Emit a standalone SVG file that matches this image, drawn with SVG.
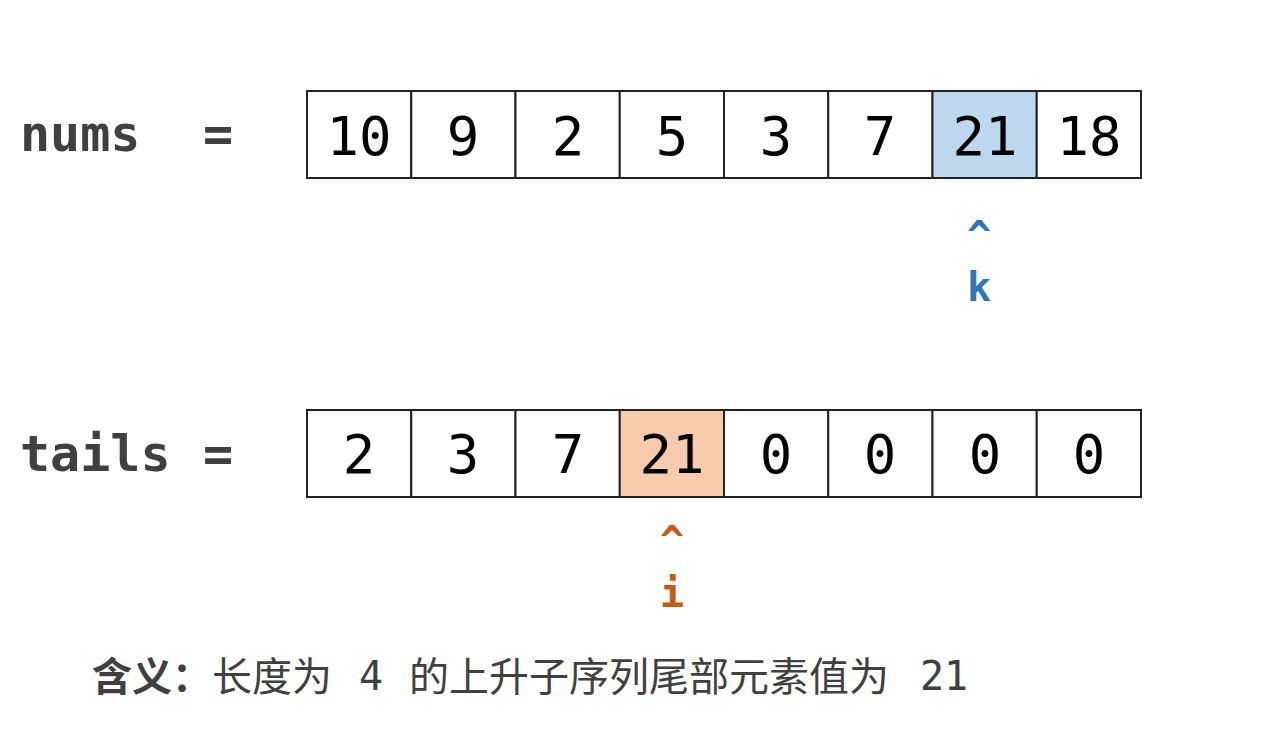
<svg xmlns="http://www.w3.org/2000/svg" width="1266" height="738" viewBox="0 0 1266 738">
<style>
.cell{fill:#fff;stroke:#222;stroke-width:2}
.hb{fill:#BDD7EE}
.ho{fill:#F8CBAD}
.num{font-family:"DejaVu Sans Mono","Liberation Mono",monospace;font-size:54px;fill:#000;text-anchor:middle}
.lbl{font-family:"DejaVu Sans Mono","Liberation Mono",monospace;font-size:50px;font-weight:bold;fill:#404040}
.ptr{font-family:"DejaVu Sans Mono","Liberation Mono",monospace;font-size:40px;font-weight:bold;text-anchor:middle}
.blue{fill:#2E75B6}
.org{fill:#C55A11}
.cn{font-family:"Noto Sans CJK SC","Noto Sans",sans-serif;font-size:40px;fill:#404040}
.mono{font-family:"DejaVu Sans Mono","Liberation Mono",monospace;font-size:40px;fill:#404040;text-anchor:middle}
</style>
<rect width="1266" height="738" fill="#fff"/>
<g id="label-nums">
<text class="lbl" x="20" y="151">nums</text>
<text class="lbl" x="218" y="151" text-anchor="middle">=</text>
</g>
<g id="nums-array">
<rect class="cell" x="307" y="91" width="104.25" height="87"/>
<rect class="cell" x="411.25" y="91" width="104.25" height="87"/>
<rect class="cell" x="515.5" y="91" width="104.25" height="87"/>
<rect class="cell" x="619.75" y="91" width="104.25" height="87"/>
<rect class="cell" x="724" y="91" width="104.25" height="87"/>
<rect class="cell" x="828.25" y="91" width="104.25" height="87"/>
<rect class="cell hb" x="932.5" y="91" width="104.25" height="87"/>
<rect class="cell" x="1036.75" y="91" width="104.25" height="87"/>
<text class="num" x="359" y="155">10</text>
<text class="num" x="463" y="155">9</text>
<text class="num" x="568" y="155">2</text>
<text class="num" x="672" y="155">5</text>
<text class="num" x="776" y="155">3</text>
<text class="num" x="880" y="155">7</text>
<text class="num" x="985" y="155">21</text>
<text class="num" x="1089" y="155">18</text>
</g>
<g id="pointer-k">
<text class="ptr blue" x="979" y="250">^</text>
<text class="ptr blue" x="979" y="301">k</text>
</g>
<g id="label-tails">
<text class="lbl" x="20" y="471">tails</text>
<text class="lbl" x="218" y="471" text-anchor="middle">=</text>
</g>
<g id="tails-array">
<rect class="cell" x="307" y="410" width="104.25" height="87"/>
<rect class="cell" x="411.25" y="410" width="104.25" height="87"/>
<rect class="cell" x="515.5" y="410" width="104.25" height="87"/>
<rect class="cell ho" x="619.75" y="410" width="104.25" height="87"/>
<rect class="cell" x="724" y="410" width="104.25" height="87"/>
<rect class="cell" x="828.25" y="410" width="104.25" height="87"/>
<rect class="cell" x="932.5" y="410" width="104.25" height="87"/>
<rect class="cell" x="1036.75" y="410" width="104.25" height="87"/>
<text class="num" x="359" y="473">2</text>
<text class="num" x="463" y="473">3</text>
<text class="num" x="568" y="473">7</text>
<text class="num" x="672" y="473">21</text>
<text class="num" x="776" y="473">0</text>
<text class="num" x="880" y="473">0</text>
<text class="num" x="985" y="473">0</text>
<text class="num" x="1089" y="473">0</text>
</g>
<g id="pointer-i">
<text class="ptr org" x="672" y="555">^</text>
<text class="ptr org" x="672" y="607">i</text>
</g>
<g id="caption">
<text class="cn" x="92" y="691" font-weight="bold">含义：</text>
<text class="cn" x="212" y="691">长度为</text>
<text class="mono" x="371" y="690">4</text>
<text class="cn" x="409" y="691">的上升子序列尾部元素值为</text>
<text class="mono" x="944" y="690">21</text>
</g>
</svg>
